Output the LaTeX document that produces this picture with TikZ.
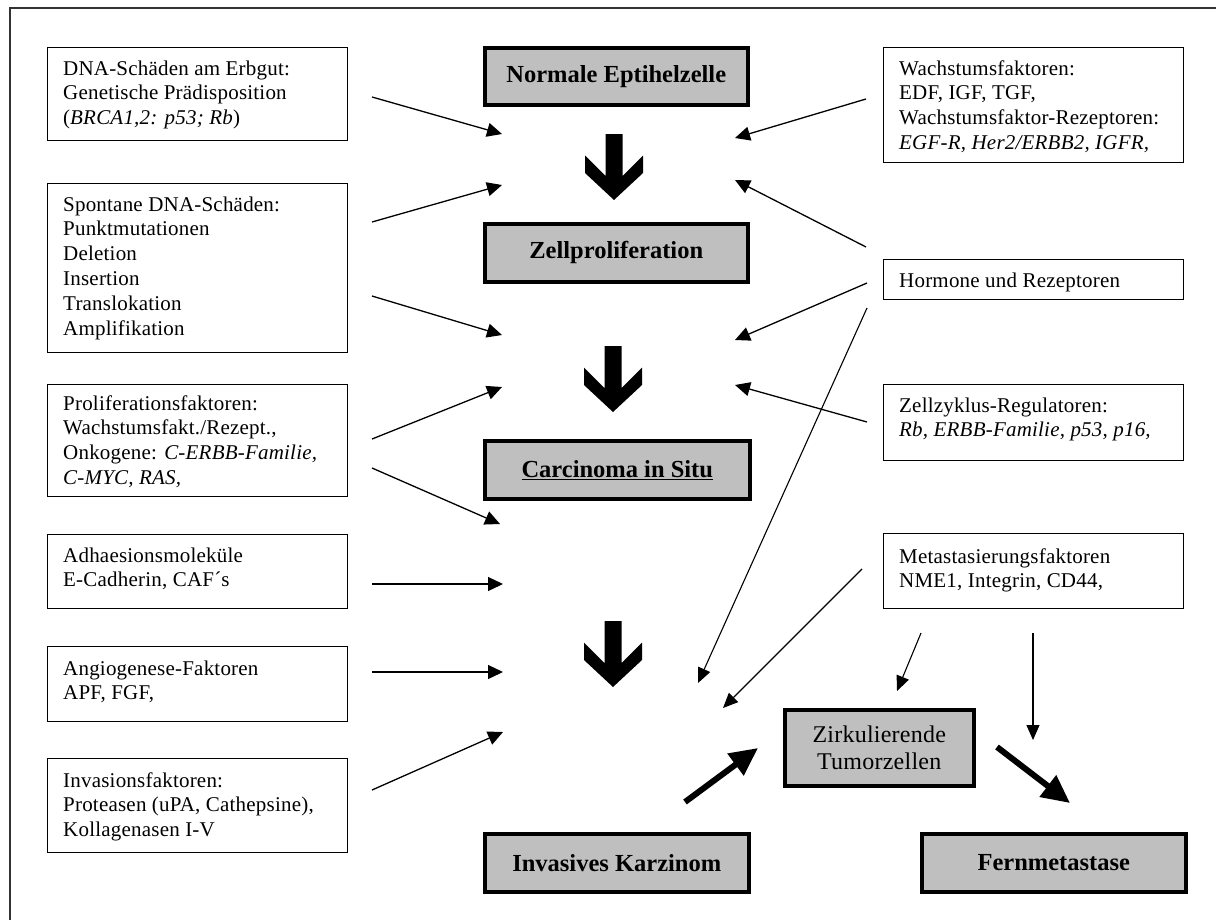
\documentclass[tikz,border=0pt]{standalone}
\usepackage{fontspec}
\setmainfont{Liberation Serif}
\newfontfamily\regfont[LetterSpace=1.0]{Liberation Serif}
\usetikzlibrary{arrows.meta}
\newcommand{\boxlines}[1]{\parbox[t]{310pt}{\raggedright #1}}
\begin{document}
\begin{tikzpicture}[x=1pt,y=-1pt,
  lbox/.style={draw=black, line width=1.4pt, inner sep=0pt, anchor=north west},
  gbox/.style={draw=black, line width=3.5pt, fill=black!25, inner sep=0pt, anchor=north west,
               font=\fontsize{24.5}{28}\selectfont\bfseries},
  txt/.style={anchor=base west, inner sep=0pt, font=\regfont\fontsize{21}{24.8}\selectfont},
  thinarrow/.style={line width=1.3pt, -{Triangle[length=15pt,width=14pt]}},
  slimarrow/.style={line width=1.1pt, -{Triangle[length=15pt,width=13pt]}},
  thickarrow/.style={line width=6pt, -{Triangle[length=28pt,width=26pt]}},
  bigdown/.pic={\fill (-8.5,0) -- (8.5,0) -- (8.5,42) -- (29,21.5) -- (29,39) -- (0,66) -- (-29,39) -- (-29,21.5) -- (-8.5,42) -- cycle;}
]
\useasboundingbox (0,0) rectangle (1216,919);
% frame
\draw[line width=1.5pt, black!80] (10,930) -- (10,8) -- (1230,8);

% left boxes
\node[lbox, minimum width=300pt, minimum height=93pt] (b1) at (47,47) {};
\node[txt] (b1t) at (63,75) {\boxlines{DNA-Schäden am Erbgut:\\Genetische Prädisposition\\(\textit{BRCA1,2: p53; Rb})}};
\node[lbox, minimum width=300pt, minimum height=169pt] (b2) at (47,183) {};
\node[txt] (b2t) at (63,211) {\boxlines{Spontane DNA-Schäden:\\Punktmutationen\\Deletion\\Insertion\\Translokation\\Amplifikation}};
\node[lbox, minimum width=300pt, minimum height=112pt] (b3) at (47,384) {};
\node[txt] (b3t) at (63,410) {\boxlines{Proliferationsfaktoren:\\Wachstumsfakt./Rezept.,\\Onkogene: \textit{C-ERBB-Familie,}\\\textit{C-MYC, RAS,}}};
\node[lbox, minimum width=300pt, minimum height=74pt] (b4) at (47,534) {};
\node[txt] (b4t) at (63,562) {\boxlines{Adhaesionsmoleküle\\E-Cadherin, CAF´s}};
\node[lbox, minimum width=300pt, minimum height=75pt] (b5) at (47,646) {};
\node[txt] (b5t) at (63,675) {\boxlines{Angiogenese-Faktoren\\APF, FGF,}};
\node[lbox, minimum width=300pt, minimum height=94pt] (b6) at (47,758) {};
\node[txt] (b6t) at (63,787) {\boxlines{Invasionsfaktoren:\\Proteasen (uPA, Cathepsine),\\Kollagenasen I-V}};

% right boxes
\node[lbox, minimum width=300pt, minimum height=115pt] (r1) at (883,47) {};
\node[txt] (r1t) at (899,75) {\boxlines{Wachstumsfaktoren:\\EDF, IGF, TGF,\\Wachstumsfaktor-Rezeptoren:\\\textit{EGF-R, Her2/ERBB2, IGFR,}}};
\node[lbox, minimum width=300pt, minimum height=40pt] (r2) at (883,259) {};
\node[txt] (r2t) at (899,287) {Hormone und Rezeptoren};
\node[lbox, minimum width=300pt, minimum height=76pt] (r3) at (883,384) {};
\node[txt] (r3t) at (899,412) {\boxlines{Zellzyklus-Regulatoren:\\\textit{Rb, ERBB-Familie, p53, p16,}}};
\node[lbox, minimum width=300pt, minimum height=75pt] (r4) at (883,533) {};
\node[txt] (r4t) at (899,563) {\boxlines{Metastasierungsfaktoren\\NME1, Integrin, CD44,}};

% grey boxes
\node[gbox, minimum width=263pt, minimum height=57pt] (n1) at (483,46) {Normale Eptihelzelle};
\node[gbox, minimum width=263pt, minimum height=58pt] (n2) at (483,222) {Zellproliferation};
\node[gbox, minimum width=265pt, minimum height=58pt] (n3) at (483,439) {\underline{Carcinoma in Situ}};
\node[gbox, minimum width=264pt, minimum height=58pt] (n4) at (483,832) {Invasives Karzinom};
\node[gbox, minimum width=189pt, minimum height=76pt, align=center,
      font=\regfont\fontsize{24}{27}\selectfont] (n5) at (783,708) {Zirkulierende\\Tumorzellen};
\node[gbox, minimum width=264pt, minimum height=58pt] (n6) at (920,832) {Fernmetastase};

% big down arrows
\pic at (614,134) {bigdown};
\pic at (613,346) {bigdown};
\pic at (613,621) {bigdown};

% connector end points
\coordinate (l1s) at (372,97);  \coordinate (l1e) at (502,134);
\coordinate (l2s) at (372,222); \coordinate (l2e) at (502,185);
\coordinate (l3s) at (372,296); \coordinate (l3e) at (502,335);
\coordinate (l4s) at (372,439); \coordinate (l4e) at (502,387);
\coordinate (l5s) at (372,468); \coordinate (l5e) at (500,524);
\coordinate (l6s) at (372,584); \coordinate (l6e) at (503,584);
\coordinate (l7s) at (372,672); \coordinate (l7e) at (503,672);
\coordinate (l8s) at (372,790); \coordinate (l8e) at (503,732);
\coordinate (q1s) at (866,99);  \coordinate (q1e) at (735,138);
\coordinate (q2s) at (866,247); \coordinate (q2e) at (735,180);
\coordinate (q3s) at (867,283); \coordinate (q3e) at (735,340);
\coordinate (q4s) at (867,422); \coordinate (q4e) at (735,385);
\coordinate (q5s) at (867,308); \coordinate (q5e) at (698,683);
\coordinate (q6s) at (862,569); \coordinate (q6e) at (723,708);
\coordinate (q7s) at (921,633); \coordinate (q7e) at (897,691);
\coordinate (q8s) at (1033,633); \coordinate (q8e) at (1033,740);
\coordinate (t1s) at (685,802); \coordinate (t1e) at (758,748);
\coordinate (t2s) at (997,747); \coordinate (t2e) at (1070,803);

\draw[thinarrow] (l1s) -- (l1e);
\draw[thinarrow] (l2s) -- (l2e);
\draw[thinarrow] (l3s) -- (l3e);
\draw[thinarrow] (l4s) -- (l4e);
\draw[thinarrow] (l5s) -- (l5e);
\draw[thinarrow] (l6s) -- (l6e);
\draw[thinarrow] (l7s) -- (l7e);
\draw[thinarrow] (l8s) -- (l8e);
\draw[thinarrow] (q1s) -- (q1e);
\draw[thinarrow] (q2s) -- (q2e);
\draw[thinarrow] (q3s) -- (q3e);
\draw[thinarrow] (q4s) -- (q4e);
\draw[slimarrow] (q5s) -- (q5e);
\draw[slimarrow] (q6s) -- (q6e);
\draw[slimarrow] (q7s) -- (q7e);
\draw[slimarrow] (q8s) -- (q8e);
\draw[thickarrow] (t1s) -- (t1e);
\draw[thickarrow] (t2s) -- (t2e);
\end{tikzpicture}
\end{document}
